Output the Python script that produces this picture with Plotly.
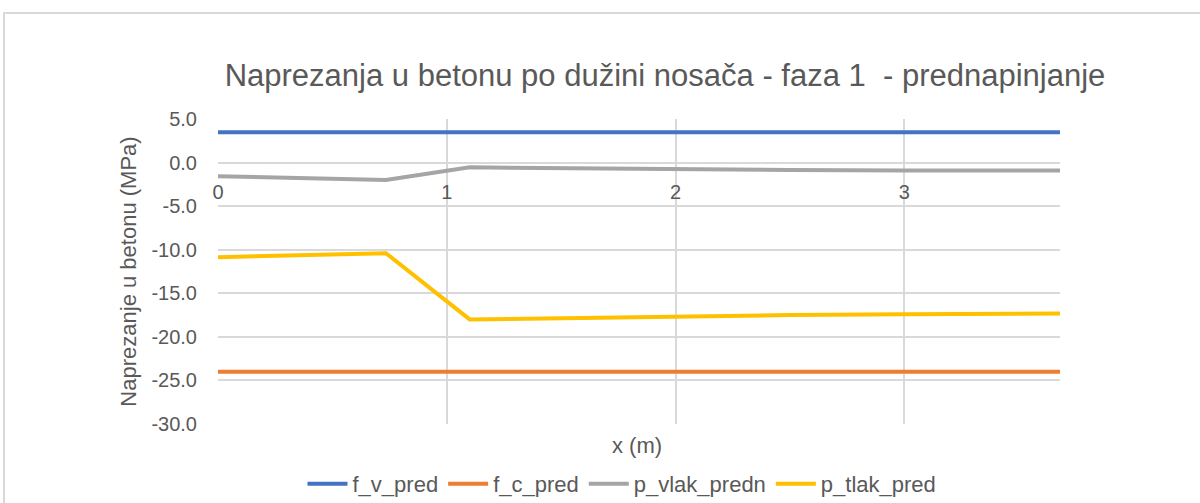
import plotly.graph_objects as go

# Stress values along the girder length, phase 1 (prestressing)
x_limits = [0.0, 3.68]
f_v_pred = [3.47, 3.47]
f_c_pred = [-24.0, -24.0]

x_pts = [0.0, 0.734, 1.10, 1.5, 2.0, 2.5, 3.0, 3.68]
p_vlak_predn = [-1.57, -2.0, -0.55, -0.66, -0.77, -0.85, -0.90, -0.92]
p_tlak_pred = [-10.86, -10.4, -18.0, -17.85, -17.65, -17.5, -17.42, -17.33]

x_ticks = [0, 1, 2, 3]
y_ticks = [5, 0, -5, -10, -15, -20, -25, -30]

FONT = "Liberation Sans Narrow, Arial Narrow, Liberation Sans, sans-serif"
TXT = "#595959"
GRID = "#D9D9D9"

# plot area in pixels
PL, PR, PT, PB = 218, 1060, 119, 424
PW, PH = PR - PL, PB - PT

fig = go.Figure()
series = [
    ("f_v_pred", x_limits, f_v_pred, "#4472C4"),
    ("f_c_pred", x_limits, f_c_pred, "#ED7D31"),
    ("p_vlak_predn", x_pts, p_vlak_predn, "#A5A5A5"),
    ("p_tlak_pred", x_pts, p_tlak_pred, "#FFC000"),
]
for name, xs, ys, col in series:
    fig.add_trace(go.Scatter(x=xs, y=ys, mode="lines", name=name,
                             line=dict(color=col, width=4)))

# y = 0 as a paper fraction, so x labels sit under the zero line
y_min, y_max = -30, 5
zero_pos = (0 - y_min) / (y_max - y_min)

fig.update_layout(
    width=1200, height=503,
    paper_bgcolor="white", plot_bgcolor="white",
    margin=dict(l=PL, r=1200 - PR, t=PT, b=503 - PB, autoexpand=False),
    font=dict(family=FONT, color=TXT, size=20),
    title=dict(text="Naprezanja u betonu po dužini nosača - faza 1  - prednapinjanje",
               x=(230 + 1100) / 2 / 1200, xanchor="center",
               y=1 - 75 / 503, yanchor="middle",
               font=dict(size=31, color=TXT, family=FONT)),
    xaxis=dict(range=x_limits, tickvals=x_ticks, ticktext=[str(t) for t in x_ticks],
               showgrid=True, gridcolor=GRID, gridwidth=2, zeroline=False,
               showline=False, anchor="free", position=zero_pos,
               ticks="", ticklabelstandoff=15,
               tickfont=dict(size=20, color=TXT, family=FONT)),
    yaxis=dict(range=[y_min, y_max], tickvals=y_ticks,
               ticktext=[f"{v:.1f}" for v in y_ticks],
               showgrid=True, gridcolor=GRID, gridwidth=2, zeroline=False,
               showline=False, ticks="", ticklabelstandoff=20,
               tickfont=dict(size=20, color=TXT, family=FONT),
               title=dict(text="Naprezanje u betonu (MPa)", standoff=8,
                          font=dict(size=22, color=TXT, family=FONT))),
    showlegend=True,
    legend=dict(orientation="h", x=(622 - PL) / PW, xanchor="center",
                y=(PB - 484) / PH, yanchor="middle",
                font=dict(size=22, color=TXT, family=FONT),
                itemwidth=40, tracegroupgap=0, bgcolor="rgba(0,0,0,0)"),
)

fig.add_annotation(text="x (m)", xref="paper", yref="paper",
                   x=(637 - PL) / PW, y=(PB - 445) / PH, xanchor="center", yanchor="middle",
                   showarrow=False, font=dict(size=22, color=TXT, family=FONT))

# outer chart border
fig.add_shape(type="rect", xref="paper", yref="paper",
              x0=(4 - PL) / PW, x1=2.0, y0=-1.0, y1=1 + (PT - 13) / PH,
              line=dict(color=GRID, width=2), fillcolor="rgba(0,0,0,0)", layer="below")

fig.write_html("out.html")
